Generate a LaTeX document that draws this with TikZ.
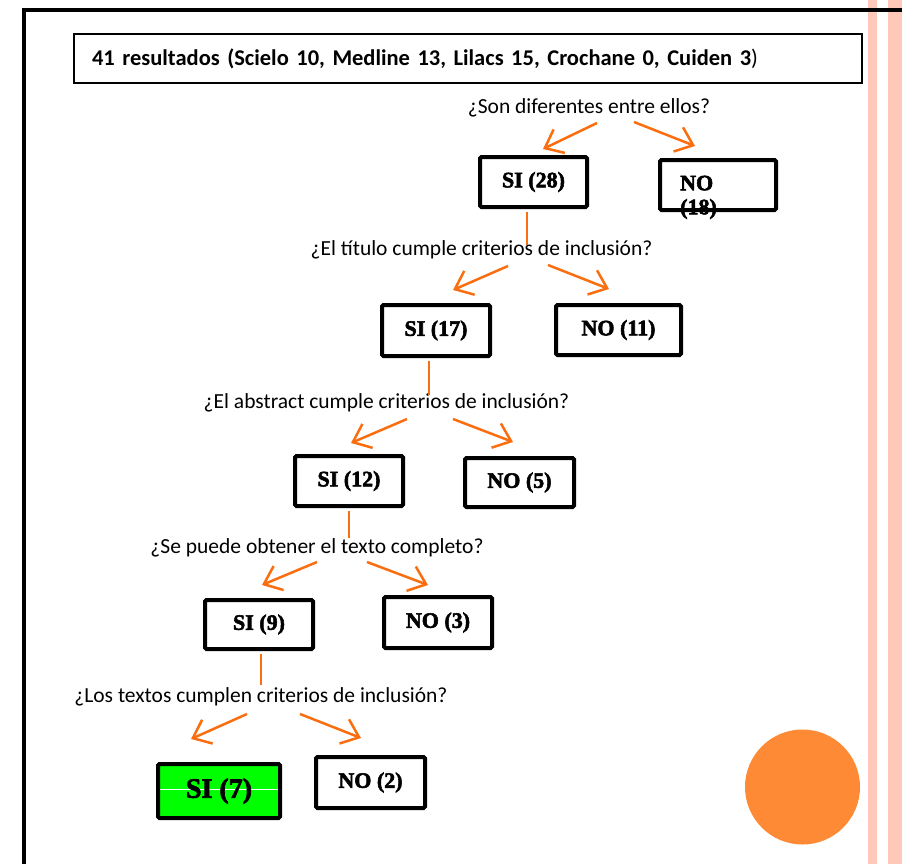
\documentclass[tikz,border=0pt]{standalone}
\usepackage{fontspec}
\usetikzlibrary{arrows.meta}
\newfontfamily\calibri{Carlito}
\newfontfamily\century[FakeBold=2.5]{Liberation Serif}
\definecolor{naranja}{RGB}{250,110,15}
\definecolor{circulo}{RGB}{255,138,54}
\definecolor{rosa}{RGB}{255,200,185}
\definecolor{verde}{RGB}{0,255,0}

\tikzset{
  caja/.style={draw, line width=4pt, rounded corners=1.5pt, inner sep=0pt,
    font=\century\bfseries\fontsize{22}{24}\selectfont},
  pregunta/.style={font=\calibri\fontsize{21.5}{24}\selectfont, inner sep=0pt},
  enlace/.style={naranja, line width=2.5pt},
  flecha/.style={enlace, -{Straight Barb[length=16pt,width=26pt]}},
}

\begin{document}
\begin{tikzpicture}[x=1pt, y=-1pt]
\useasboundingbox (0,0) rectangle (902,864);

% Stripes and frame
\fill[rosa] (868,0) rectangle (877,864);
\fill[rosa] (888,0) rectangle (902,864);
\draw[line width=4pt] (24,864) -- (24,10) -- (902,10);

% Title
\node[draw, line width=2pt, minimum height=49pt, inner xsep=18pt, text width=752pt, align=left,
  font=\calibri\bfseries\fontsize{22.5}{24}\selectfont] (titulo) at (468,58.5)
  {41 resultados (Scielo 10, Medline 13, Lilacs 15, Crochane 0, Cuiden 3{\mdseries)}};

% Questions
\node[pregunta] (q1) at (589,108) {¿Son diferentes entre ellos?};
\node[pregunta] (q2) at (481.5,250) {¿El título cumple criterios de inclusión?};
\node[pregunta] (q3) at (386.5,403) {¿El abstract cumple criterios de inclusión?};
\node[pregunta] (q4) at (317,548) {¿Se puede obtener el texto completo?};
\node[pregunta] (q5) at (261,697) {¿Los textos cumplen criterios de inclusión?};

% Boxes
\node[caja, minimum width=107pt, minimum height=50pt] (si28) at (533.5,182) {SI (28)};
\node[caja, minimum width=116pt, minimum height=50pt] (no18) at (718,185) {};
\node[anchor=north west, inner sep=0pt, align=left,
  font=\century\bfseries\fontsize{22}{24}\selectfont] (no18t) at (680,175.5) {NO\\(18)};
\node[caja, minimum width=108pt, minimum height=51pt] (si17) at (436,330.5) {SI (17)};
\node[caja, minimum width=125pt, minimum height=50pt] (no11) at (618.5,330) {NO (11)};
\node[caja, minimum width=108pt, minimum height=50pt] (si12) at (349,481) {SI (12)};
\node[caja, minimum width=109pt, minimum height=49pt] (no5) at (519.5,482.5) {NO (5)};
\node[caja, minimum width=108pt, minimum height=49pt] (si9) at (259,624.5) {SI (9)};
\node[caja, minimum width=108pt, minimum height=51pt] (no3) at (438,622.5) {NO (3)};
\node[caja, fill=verde, minimum width=122pt, minimum height=54pt,
  font=\century\bfseries\fontsize{28}{30}\selectfont,
  path picture={\draw[white, line width=1pt] ([yshift=2pt]path picture bounding box.west) -- ([yshift=2pt]path picture bounding box.east);}]
  (si7) at (219,791) {SI (7)};
\node[caja, minimum width=109pt, minimum height=51pt] (no2) at (370.5,782.5) {NO (2)};

% Links down to the next question
\coordinate (j1) at (527,245);
\coordinate (j2) at (429,395);
\coordinate (j3) at (349,538);
\coordinate (j4) at (261,685);
\draw[enlace, shorten <=3pt] (si28.south -| j1) -- (j1);
\draw[enlace, shorten <=3pt] (si17.south -| j2) -- (j2);
\draw[enlace, shorten <=3pt] (si12.south -| j3) -- (j3);
\draw[enlace, shorten <=3pt] (si9.south -| j4) -- (j4);

% Arrows
\draw[flecha] ([shift={(8,15)}]q1.center) -- ([shift={(9.5,-6)}]si28.north);
\draw[flecha] ([shift={(45,14)}]q1.center) -- ([shift={(-23,-12)}]no18.north);
\draw[flecha] ([shift={(26.5,16)}]q2.center) -- ([shift={(17,-13)}]si17.north);
\draw[flecha] ([shift={(66.5,15)}]q2.center) -- ([shift={(-9.5,-14)}]no11.north);
\draw[flecha] ([shift={(20.5,16)}]q3.center) -- ([shift={(2,-11)}]si12.north);
\draw[flecha] ([shift={(66.5,16)}]q3.center) -- ([shift={(-6.5,-14)}]no5.north);
\draw[flecha] ([shift={(0,14)}]q4.center) -- ([shift={(3,-13)}]si9.north);
\draw[flecha] ([shift={(50,14)}]q4.center) -- ([shift={(-10,-10)}]no3.north);
\draw[flecha] ([shift={(-14,17)}]q5.center) -- ([shift={(-28,-23)}]si7.north);
\draw[flecha] ([shift={(39,17)}]q5.center) -- ([shift={(-9.5,-17)}]no2.north);

% Circle
\fill[circulo] (802.5,787) circle (57.5pt);
\end{tikzpicture}
\end{document}
